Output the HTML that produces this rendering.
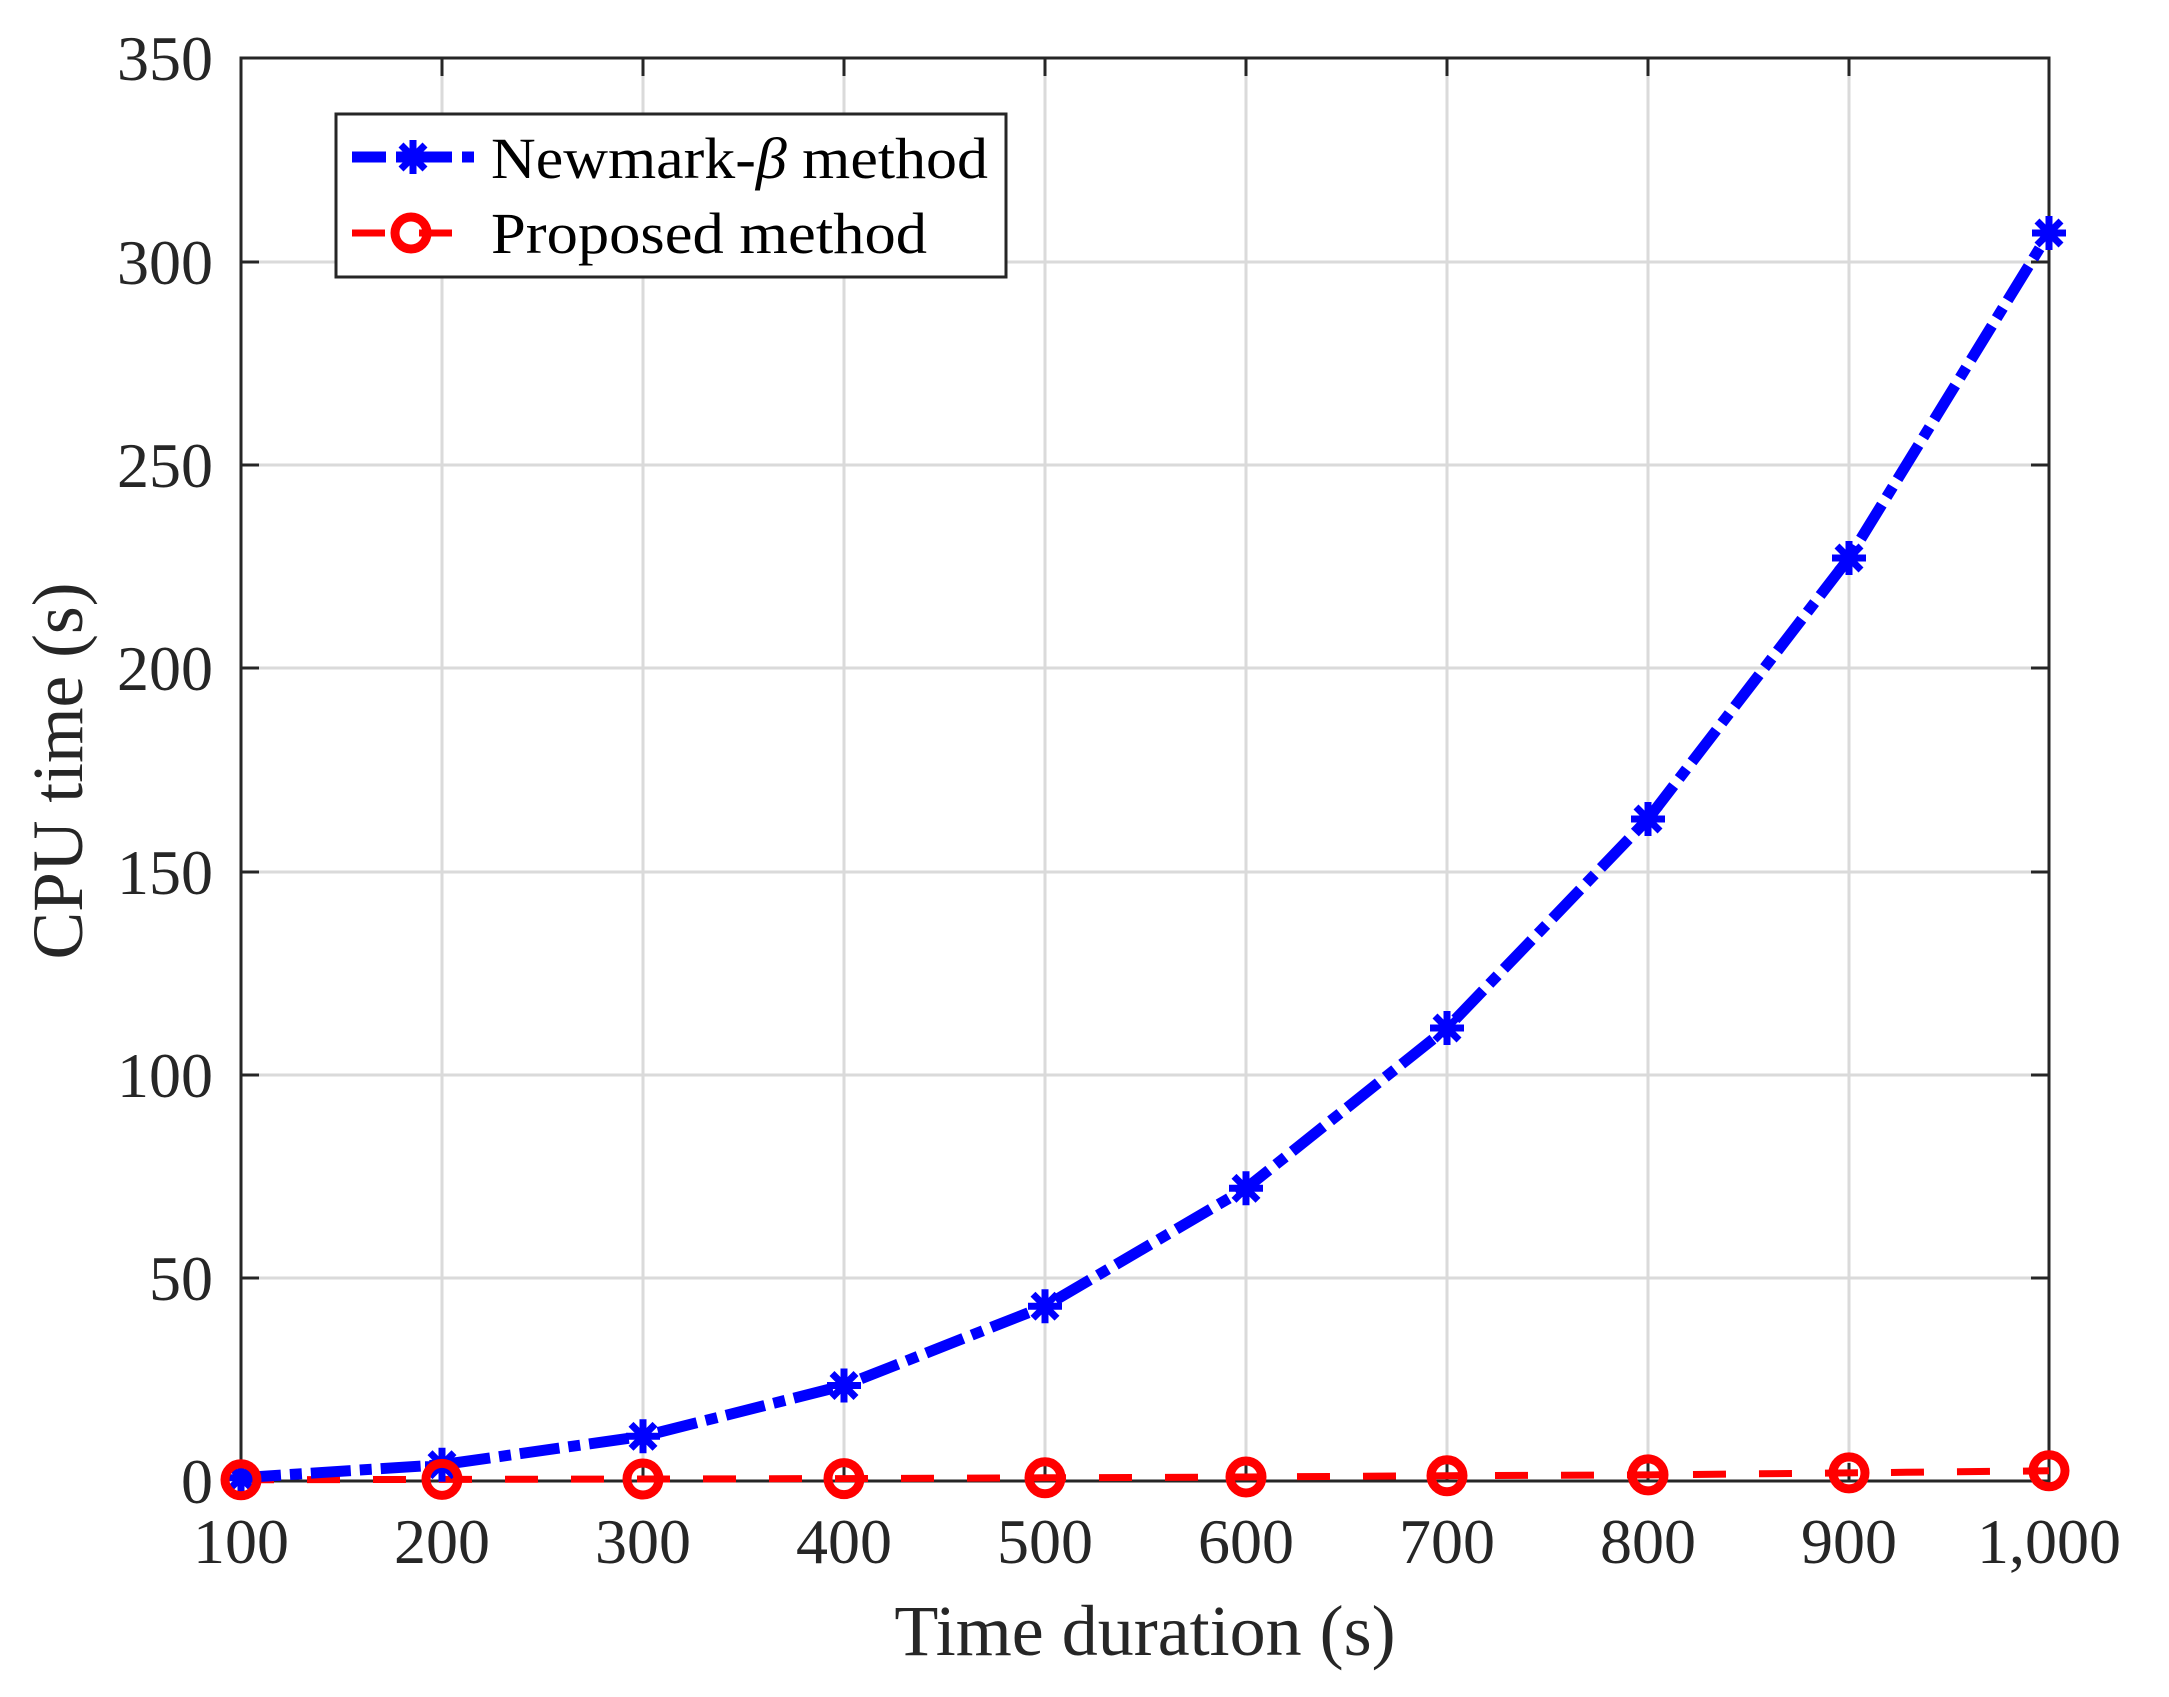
<!DOCTYPE html>
<html><head><meta charset="utf-8"><style>html,body{margin:0;padding:0;background:#fff}svg{display:block}</style></head>
<body>
<svg width="2169" height="1697" viewBox="0 0 2169 1697" xmlns="http://www.w3.org/2000/svg" font-family="'Liberation Serif', serif" fill="#262626">
<defs>
<g id="ast" stroke="#0000ff" stroke-width="7" stroke-linecap="butt">
<line x1="-17" y1="0" x2="17" y2="0"/><line x1="0" y1="-17" x2="0" y2="17"/>
<line x1="-12" y1="-12" x2="12" y2="12"/><line x1="-12" y1="12" x2="12" y2="-12"/>
</g>
<circle id="circ" r="16" fill="none" stroke="#ff0000" stroke-width="9"/>
</defs>
<rect width="2169" height="1697" fill="#fff"/>
<g stroke="#dadada" stroke-width="3">
<line x1="442" y1="58" x2="442" y2="1481"/><line x1="643" y1="58" x2="643" y2="1481"/><line x1="844" y1="58" x2="844" y2="1481"/><line x1="1045" y1="58" x2="1045" y2="1481"/><line x1="1246" y1="58" x2="1246" y2="1481"/><line x1="1447" y1="58" x2="1447" y2="1481"/><line x1="1648" y1="58" x2="1648" y2="1481"/><line x1="1849" y1="58" x2="1849" y2="1481"/>
<line x1="241" y1="1278" x2="2049" y2="1278"/><line x1="241" y1="1075" x2="2049" y2="1075"/><line x1="241" y1="872" x2="2049" y2="872"/><line x1="241" y1="668" x2="2049" y2="668"/><line x1="241" y1="465" x2="2049" y2="465"/><line x1="241" y1="262" x2="2049" y2="262"/>
</g>
<g stroke="#262626" stroke-width="3">
<path d="M442 1481v-18M643 1481v-18M844 1481v-18M1045 1481v-18M1246 1481v-18M1447 1481v-18M1648 1481v-18M1849 1481v-18
M442 58v18M643 58v18M844 58v18M1045 58v18M1246 58v18M1447 58v18M1648 58v18M1849 58v18
M241 1278h18M241 1075h18M241 872h18M241 668h18M241 465h18M241 262h18
M2049 1278h-18M2049 1075h-18M2049 872h-18M2049 668h-18M2049 465h-18M2049 262h-18"/>
<rect x="241" y="58" width="1808" height="1423" fill="none"/>
</g>
<g font-size="64" text-anchor="end">
<text x="213" y="1503">0</text><text x="213" y="1300">50</text><text x="213" y="1097">100</text><text x="213" y="894">150</text><text x="213" y="690">200</text><text x="213" y="487">250</text><text x="213" y="284">300</text><text x="213" y="80">350</text>
</g>
<g font-size="64" text-anchor="middle">
<text x="241" y="1563">100</text><text x="442" y="1563">200</text><text x="643" y="1563">300</text><text x="844" y="1563">400</text><text x="1045" y="1563">500</text><text x="1246" y="1563">600</text><text x="1447" y="1563">700</text><text x="1648" y="1563">800</text><text x="1849" y="1563">900</text><text x="2049" y="1563">1,000</text>
</g>
<text x="1145" y="1655" font-size="72" text-anchor="middle">Time duration (s)</text>
<text transform="translate(82,771) rotate(-90)" font-size="72" text-anchor="middle" textLength="377" lengthAdjust="spacingAndGlyphs">CPU time (s)</text>
<polyline fill="none" stroke="#ff0000" stroke-width="7" stroke-dasharray="33 33" points="241,1479.8 442,1479.4 643,1479 844,1478.6 1045,1477.8 1246,1477 1447,1475.7 1648,1474.9 1849,1472.9 2049,1470.8"/>
<polyline fill="none" stroke="#0000ff" stroke-width="11" stroke-dasharray="40 9 12 9" points="241,1477.7 442,1464.7 643,1436.3 844,1385.5 1045,1306.2 1246,1188.3 1447,1028 1648,819 1849,558 2049,233"/>
<g>
<use href="#ast" x="241" y="1477.7"/><use href="#ast" x="442" y="1464.7"/><use href="#ast" x="643" y="1436.3"/><use href="#ast" x="844" y="1385.5"/><use href="#ast" x="1045" y="1306.2"/><use href="#ast" x="1246" y="1188.3"/><use href="#ast" x="1447" y="1028"/><use href="#ast" x="1648" y="819"/><use href="#ast" x="1849" y="558"/><use href="#ast" x="2049" y="233"/>
</g>
<g>
<use href="#circ" x="241" y="1479.8"/><use href="#circ" x="442" y="1479.4"/><use href="#circ" x="643" y="1479"/><use href="#circ" x="844" y="1478.6"/><use href="#circ" x="1045" y="1477.8"/><use href="#circ" x="1246" y="1477"/><use href="#circ" x="1447" y="1475.7"/><use href="#circ" x="1648" y="1474.9"/><use href="#circ" x="1849" y="1472.9"/><use href="#circ" x="2049" y="1470.8"/>
</g>
<rect x="336" y="114" width="670" height="163" fill="#fff" stroke="#262626" stroke-width="3"/>
<line x1="352" y1="157" x2="478" y2="157" stroke="#0000ff" stroke-width="11" stroke-dasharray="34 10 12 10"/>
<use href="#ast" x="413" y="157"/>
<line x1="352" y1="233" x2="452" y2="233" stroke="#ff0000" stroke-width="7" stroke-dasharray="33 34"/>
<use href="#circ" x="411" y="233"/>
<text x="491" y="178" font-size="58" fill="#000" textLength="497" lengthAdjust="spacingAndGlyphs">Newmark-<tspan font-style="italic">β</tspan> method</text>
<text x="491" y="253" font-size="58" fill="#000" textLength="436" lengthAdjust="spacingAndGlyphs">Proposed method</text>
</svg>
</body></html>
